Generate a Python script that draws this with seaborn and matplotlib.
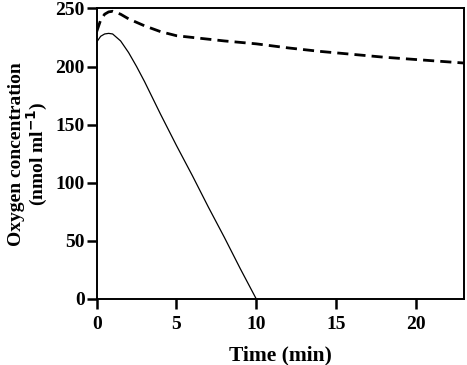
import seaborn as sns
import matplotlib.pyplot as plt
import pandas as pd

# data
time_solid = [0, 0.25, 0.5, 0.75, 1.0, 1.5, 2.0, 2.5, 3.0, 3.5, 4.0, 5.0, 6.0, 7.0, 8.0, 9.0, 10.0]
oxygen_solid = [221, 226, 228, 228.5, 228, 222, 212, 200, 187, 173, 159, 132, 106, 79, 53, 26, 0]

time_dashed = [0, 0.25, 0.5, 0.75, 1.0, 1.5, 2, 3, 4, 5, 6, 8, 10, 12, 14, 16, 18, 20, 22, 23]
oxygen_dashed = [230, 240, 245, 247, 247.5, 245, 241, 235, 230, 226.5, 225, 222, 219.5, 216, 213, 210.5, 208, 206, 204, 203]

x_ticks = [0, 5, 10, 15, 20]
y_ticks = [0, 50, 100, 150, 200, 250]

solid_df = pd.DataFrame({"time": time_solid, "oxygen": oxygen_solid})
dashed_df = pd.DataFrame({"time": time_dashed, "oxygen": oxygen_dashed})

# feel and look
sns.set_style("ticks")
plt.rcParams["font.family"] = ["Liberation Serif", "DejaVu Serif"]
plt.rcParams["font.weight"] = "bold"
plt.rcParams["text.color"] = "black"
plt.rcParams["axes.labelcolor"] = "black"
plt.rcParams["xtick.color"] = "black"
plt.rcParams["ytick.color"] = "black"
plt.rcParams["axes.axisbelow"] = False
plt.rcParams["mathtext.default"] = "bf"

fig = plt.figure(figsize=(4.67, 3.65), dpi=100)
ax = fig.add_axes([0.207, 0.181, 0.786, 0.796])

sns.lineplot(data=solid_df, x="time", y="oxygen", ax=ax, color="black", linewidth=0.9)
sns.lineplot(data=dashed_df, x="time", y="oxygen", ax=ax, color="black", linewidth=2.0,
             linestyle=(0, (4, 2.2)))

ax.set_xlim(0, 23)
ax.set_ylim(0, 250)
ax.set_xticks(x_ticks)
ax.set_yticks(y_ticks)

for side in ["top", "right", "bottom", "left"]:
    ax.spines[side].set_visible(True)
    ax.spines[side].set_linewidth(1.4)
    ax.spines[side].set_color("black")

ax.tick_params(axis="both", which="major", direction="out", labelsize=14,
               bottom=True, left=True, top=False, right=False)
ax.tick_params(axis="x", pad=9)
ax.tick_params(axis="y", pad=5)
# tick marks: set on the Line2D objects directly
for tick in ax.xaxis.get_major_ticks() + ax.yaxis.get_major_ticks():
    tick.tick1line.set_visible(True)
    tick.tick1line.set_markersize(7)
    tick.tick1line.set_markeredgewidth(1.8)
    tick.tick1line.set_markeredgecolor("black")
    tick.tick1line.set_color("black")
for lab in ax.get_xticklabels() + ax.get_yticklabels():
    lab.set_fontweight("bold")

ax.set_xlabel("Time (min)", fontsize=15.5, fontweight="bold", labelpad=9)
ax.set_ylabel("Oxygen concentration\n(nmol ml$^{-1}$)", fontsize=14, fontweight="bold",
              linespacing=1.0)
ax.yaxis.set_label_coords(-0.128, 0.5)

fig.savefig("out.png", dpi=100)
